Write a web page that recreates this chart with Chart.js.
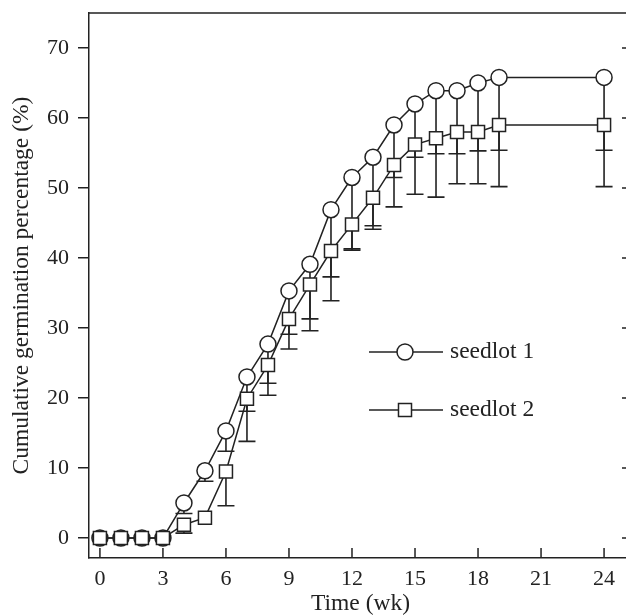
<!DOCTYPE html>
<html>
<head>
<meta charset="utf-8">
<script src="https://cdn.jsdelivr.net/npm/chart.js@4"></script>
<style>
  html, body { margin: 0; padding: 0; background: #fff; overflow: hidden; }
  #wrap { width: 626px; height: 616px; overflow: hidden; position: relative; }
  canvas { position: absolute; left: 0; top: 0; }
</style>
</head>
<body>
<div id="wrap"><canvas id="chart" width="650" height="616"></canvas></div>
<script>
// ---------------- DATA ----------------
const weeks = [0, 1, 2, 3, 4, 5, 6, 7, 8, 9, 10, 11, 12, 13, 14, 15, 16, 17, 18, 19, 24];
const seedlot1 = [0, 0, 0, 0, 5.0, 9.6, 15.3, 23.0, 27.7, 35.3, 39.1, 46.9, 51.5, 54.4, 59.0, 62.0, 63.9, 63.9, 65.0, 65.8, 65.8];
const seedlot1Low = [0, 0, 0, 0, 3.5, 8.1, 12.4, 18.1, 22.1, 29.1, 31.3, 37.3, 41.3, 44.6, 51.5, 54.4, 54.9, 54.9, 55.3, 55.4, 55.4];
const seedlot2 = [0, 0, 0, 0, 1.9, 2.9, 9.5, 19.9, 24.7, 31.3, 36.2, 41.0, 44.8, 48.6, 53.3, 56.2, 57.1, 58.0, 58.0, 59.0, 59.0];
const seedlot2Low = [0, 0, 0, 0, 0.7, 2.9, 4.6, 13.8, 20.4, 27.0, 29.6, 33.9, 41.1, 44.1, 47.3, 49.1, 48.7, 50.6, 50.6, 50.2, 50.2];
const xTicks = [0, 3, 6, 9, 12, 15, 18, 21, 24];
const yTicks = [0, 10, 20, 30, 40, 50, 60, 70];
const seriesNames = ["seedlot 1", "seedlot 2"];

const INK = "#222";
const FONT = "Liberation Serif";

const pts = (ys) => weeks.map((w, i) => ({ x: w, y: ys[i] }));

// ---------------- PLUGINS ----------------
// downward error bars, drawn under the markers
const errorBars = {
    id: "errorBars",
    beforeDatasetsDraw(chart) {
        const { ctx, scales: { x, y } } = chart;
        const lows = [seedlot1Low, seedlot2Low];
        const vals = [seedlot1, seedlot2];
        ctx.save();
        ctx.strokeStyle = INK;
        ctx.lineWidth = 1.6;
        lows.forEach((low, s) => {
            weeks.forEach((w, i) => {
                if (vals[s][i] - low[i] < 0.3) return;
                const px = x.getPixelForValue(w);
                const top = y.getPixelForValue(vals[s][i]);
                const bot = y.getPixelForValue(low[i]);
                ctx.beginPath();
                ctx.moveTo(px, top);
                ctx.lineTo(px, bot);
                ctx.moveTo(px - 8.5, bot);
                ctx.lineTo(px + 8.5, bot);
                ctx.stroke();
            });
        });
        ctx.restore();
    }
};

// frame: top border, right ticks, inward x ticks, and legend
const frame = {
    id: "frame",
    afterDraw(chart) {
        const { ctx, chartArea: a, scales: { x, y } } = chart;
        ctx.save();
        ctx.strokeStyle = INK;
        ctx.lineWidth = 1.5;
        ctx.beginPath();
        ctx.moveTo(a.left, a.top);
        ctx.lineTo(a.right, a.top);
        ctx.lineTo(a.right, a.bottom);
        xTicks.forEach(v => {
            const px = x.getPixelForValue(v);
            ctx.moveTo(px, a.bottom);
            ctx.lineTo(px, a.bottom - 10);
        });
        yTicks.forEach(v => {
            const py = y.getPixelForValue(v);
            ctx.moveTo(a.right, py);
            ctx.lineTo(a.right - 10, py);
        });
        ctx.stroke();

        // legend
        const rows = [
            { label: seriesNames[0], style: "circle", r: 8, y: 352 },
            { label: seriesNames[1], style: "rect", r: 9.2, y: 410 }
        ];
        ctx.font = "23.5px " + FONT;
        ctx.textBaseline = "middle";
        rows.forEach(row => {
            ctx.lineWidth = 1.5;
            ctx.beginPath();
            ctx.moveTo(369, row.y);
            ctx.lineTo(443, row.y);
            ctx.stroke();
            const opts = { pointStyle: row.style, radius: row.r, borderWidth: 1.5 };
            ctx.fillStyle = "#fff";
            Chart.helpers.drawPoint(ctx, opts, 405, row.y);
            ctx.fillStyle = INK;
            ctx.fillText(row.label, 450, row.y);
        });
        ctx.restore();
    }
};

const noPad = s => { s.paddingTop = 0; s.paddingBottom = 0; s.paddingLeft = 0; s.paddingRight = 0; };

// ---------------- CHART ----------------
new Chart(document.getElementById("chart"), {
    type: "line",
    data: {
        datasets: [
            {
                label: seriesNames[0],
                data: pts(seedlot1),
                order: 1,
                borderColor: INK,
                borderWidth: 1.5,
                pointStyle: "circle",
                pointRadius: 8,
                pointBorderWidth: 1.5,
                pointBorderColor: INK,
                pointBackgroundColor: c => (c.raw && c.raw.y === 0 ? "#8c8c8c" : "#fff"),
                tension: 0
            },
            {
                label: seriesNames[1],
                data: pts(seedlot2),
                order: 0,
                borderColor: INK,
                borderWidth: 1.5,
                pointStyle: "rect",
                pointRadius: 9.2,
                pointBorderWidth: 1.5,
                pointBorderColor: INK,
                pointBackgroundColor: "#fff",
                tension: 0
            }
        ]
    },
    options: {
        responsive: false,
        animation: false,
        events: [],
        layout: { padding: { left: 0, top: 13, right: 18, bottom: 0 } },
        plugins: {
            legend: { display: false },
            tooltip: { enabled: false }
        },
        scales: {
            x: {
                type: "linear",
                min: -0.52,
                max: 25.33,
                afterBuildTicks: s => { s.ticks = xTicks.map(v => ({ value: v })); },
                afterFit: s => { s.height = 58; noPad(s); },
                grid: { display: false, drawTicks: false },
                border: { display: true, color: INK, width: 1.5 },
                ticks: { color: INK, font: { family: FONT, size: 22 }, padding: 8, maxRotation: 0 },
                title: {
                    display: true,
                    text: "Time (wk)",
                    color: INK,
                    font: { family: FONT, size: 23.5 },
                    padding: { top: 0, bottom: -2 }
                }
            },
            y: {
                type: "linear",
                min: -2.86,
                max: 75,
                afterBuildTicks: s => { s.ticks = yTicks.map(v => ({ value: v })); },
                afterFit: s => { s.width = 89; noPad(s); },
                grid: { drawOnChartArea: false, tickLength: 11, color: INK, lineWidth: 1.5 },
                border: { display: true, color: INK, width: 1.5 },
                ticks: { color: INK, font: { family: FONT, size: 22 }, padding: 9 },
                title: {
                    display: true,
                    text: "Cumulative germination percentage (%)",
                    color: INK,
                    font: { family: FONT, size: 23.5 },
                    padding: { top: 8, bottom: 0 }
                }
            }
        }
    },
    plugins: [errorBars, frame]
});
</script>
</body>
</html>
